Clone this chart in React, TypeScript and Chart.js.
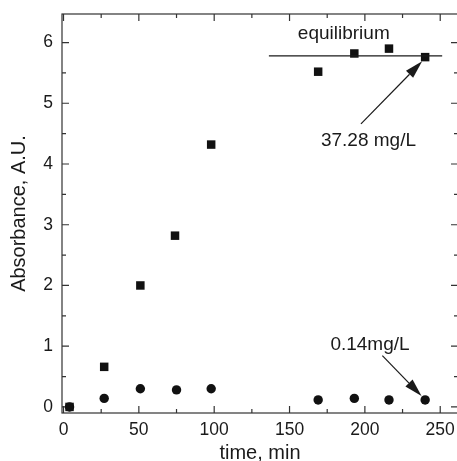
import React, { useEffect, useRef } from "react";
import { Chart, registerables } from "chart.js";

Chart.register(...registerables);

// ---- data ----
const squareTimes = [4, 27, 51, 74, 98, 169, 193, 216, 240];
const squareAbsorbance = [0.0, 0.66, 2.0, 2.82, 4.32, 5.52, 5.82, 5.9, 5.76];
const circleTimes = [4, 27, 51, 75, 98, 169, 193, 216, 240];
const circleAbsorbance = [0.0, 0.14, 0.3, 0.28, 0.3, 0.115, 0.14, 0.115, 0.115];

const xMajorTicks = [0, 50, 100, 150, 200, 250];
const xMinorTicks = [25, 75, 125, 175, 225];
const yMajorTicks = [0, 1, 2, 3, 4, 5, 6];
const yMinorTicks = [0.5, 1.5, 2.5, 3.5, 4.5, 5.5];

const xTitle = "time, min";
const yTitle = "Absorbance, A.U.";

const equilibriumLevel = 5.78;
const equilibriumStart = 136.3;
const equilibriumEnd = 251.3;
const equilibriumText = "equilibrium";
const highText = "37.28 mg/L";
const lowText = "0.14mg/L";

// annotation anchors in data units
const equilibriumTextAt = [186, 6.15];
const highTextAt = [202.4, 4.38];
const highArrowFrom = [197.4, 4.66];
const highArrowTo = [238.0, 5.69];
const lowTextAt = [203.4, 1.03];
const lowArrowFrom = [211.6, 0.845];
const lowArrowTo = [237.6, 0.18];

const FONT = "'Liberation Sans', Arial, Helvetica, sans-serif";
const INK = "#1a1a1a";
const AXIS = "#333333";

function drawArrow(ctx: CanvasRenderingContext2D, x1: number, y1: number, x2: number, y2: number) {
  const ang = Math.atan2(y2 - y1, x2 - x1);
  const headLen = 18;
  const headW = 5;
  const c = Math.cos(ang);
  const s = Math.sin(ang);
  const bx = x2 - headLen * c;
  const by = y2 - headLen * s;
  ctx.beginPath();
  ctx.moveTo(x1, y1);
  ctx.lineTo(bx, by);
  ctx.stroke();
  ctx.beginPath();
  ctx.moveTo(x2, y2);
  ctx.lineTo(bx + headW * s, by - headW * c);
  ctx.lineTo(bx - headW * s, by + headW * c);
  ctx.closePath();
  ctx.fill();
}

const framePlugin = {
  id: "frameTicks",
  beforeDatasetsDraw(chart: any) {
    const { ctx, chartArea } = chart;
    const xs = chart.scales.x;
    const ys = chart.scales.y;
    const { left, right, top, bottom } = chartArea;
    ctx.save();
    ctx.strokeStyle = AXIS;
    ctx.lineWidth = 1.2;
    ctx.strokeRect(left, top, right - left, bottom - top);
    const tick = (vals: number[], len: number) => {
      vals.forEach((v) => {
        const px = xs.getPixelForValue(v);
        ctx.beginPath();
        ctx.moveTo(px, bottom);
        ctx.lineTo(px, bottom - len);
        ctx.moveTo(px, top);
        ctx.lineTo(px, top + len);
        ctx.stroke();
      });
    };
    const ytick = (vals: number[], len: number) => {
      vals.forEach((v) => {
        const py = ys.getPixelForValue(v);
        ctx.beginPath();
        ctx.moveTo(left, py);
        ctx.lineTo(left + len, py);
        ctx.moveTo(right, py);
        ctx.lineTo(right - len, py);
        ctx.stroke();
      });
    };
    tick(xMajorTicks, 7);
    tick(xMinorTicks, 4);
    ytick(yMajorTicks, 7);
    ytick(yMinorTicks, 4);
    ctx.restore();
  },
  afterDatasetsDraw(chart: any) {
    const { ctx } = chart;
    const xs = chart.scales.x;
    const ys = chart.scales.y;
    const X = (v: number) => xs.getPixelForValue(v);
    const Y = (v: number) => ys.getPixelForValue(v);
    ctx.save();
    ctx.strokeStyle = INK;
    ctx.fillStyle = INK;
    ctx.lineWidth = 1.2;
    // equilibrium line
    ctx.beginPath();
    ctx.moveTo(X(equilibriumStart), Y(equilibriumLevel));
    ctx.lineTo(X(equilibriumEnd), Y(equilibriumLevel));
    ctx.stroke();
    // arrows
    drawArrow(ctx, X(highArrowFrom[0]), Y(highArrowFrom[1]), X(highArrowTo[0]), Y(highArrowTo[1]));
    drawArrow(ctx, X(lowArrowFrom[0]), Y(lowArrowFrom[1]), X(lowArrowTo[0]), Y(lowArrowTo[1]));
    // texts
    ctx.font = `19px ${FONT}`;
    ctx.textAlign = "center";
    ctx.textBaseline = "middle";
    ctx.fillText(equilibriumText, X(equilibriumTextAt[0]), Y(equilibriumTextAt[1]));
    ctx.fillText(highText, X(highTextAt[0]), Y(highTextAt[1]));
    ctx.fillText(lowText, X(lowTextAt[0]), Y(lowTextAt[1]));
    ctx.restore();
  },
};

export default function App() {
  const ref = useRef<HTMLCanvasElement>(null);
  useEffect(() => {
    const chart = new Chart(ref.current as HTMLCanvasElement, {
      type: "scatter",
      data: {
        datasets: [
          {
            label: "squares",
            data: squareTimes.map((t, i) => ({ x: t, y: squareAbsorbance[i] })),
            pointStyle: "rect",
            pointRadius: 6,
            backgroundColor: "#111111",
            borderColor: "#111111",
            borderWidth: 0,
          },
          {
            label: "circles",
            data: circleTimes.map((t, i) => ({ x: t, y: circleAbsorbance[i] })),
            pointStyle: "circle",
            pointRadius: 4.7,
            backgroundColor: "#111111",
            borderColor: "#111111",
            borderWidth: 0,
          },
        ],
      },
      options: {
        animation: false,
        responsive: false,
        layout: { padding: { top: 14, left: 0, right: 0, bottom: 0 } },
        plugins: { legend: { display: false }, tooltip: { enabled: false } },
        scales: {
          x: {
            type: "linear",
            min: -1,
            max: 261.8,
            afterBuildTicks: (s: any) => {
              s.ticks = xMajorTicks.map((v) => ({ value: v }));
            },
            afterFit: (s: any) => {
              s.height = 48;
              s.paddingLeft = 0;
              s.paddingRight = 0;
              s.paddingTop = 0;
              s.paddingBottom = 0;
            },
            grid: { display: false, drawTicks: false },
            border: { display: false },
            ticks: {
              font: { family: FONT, size: 17.5 },
              color: INK,
              padding: 7,
              maxRotation: 0,
              autoSkip: false,
            },
            title: {
              display: true,
              text: xTitle,
              font: { family: FONT, size: 20, lineHeight: 0.85 },
              color: INK,
              padding: { top: 0, bottom: -1 },
            },
          },
          y: {
            type: "linear",
            min: -0.1,
            max: 6.47,
            afterBuildTicks: (s: any) => {
              s.ticks = yMajorTicks.map((v) => ({ value: v }));
            },
            afterFit: (s: any) => {
              s.width = 62;
              s.paddingLeft = 0;
              s.paddingRight = 0;
              s.paddingTop = 0;
              s.paddingBottom = 0;
            },
            grid: { display: false, drawTicks: false },
            border: { display: false },
            ticks: {
              font: { family: FONT, size: 17.5 },
              color: INK,
              padding: 9,
              autoSkip: false,
            },
            title: {
              display: true,
              text: yTitle,
              font: { family: FONT, size: 20, lineHeight: 0.85 },
              color: INK,
              padding: { top: 10.5, bottom: 0 },
            },
          },
        },
      },
      plugins: [framePlugin],
    } as any);
    return () => chart.destroy();
  }, []);
  return (
    <div
      style={{
        position: "absolute",
        left: 0,
        top: 0,
        width: 457,
        height: 461,
        overflow: "hidden",
        background: "#ffffff",
      }}
    >
      <canvas ref={ref} width={464} height={461} style={{ display: "block" }} />
    </div>
  );
}
